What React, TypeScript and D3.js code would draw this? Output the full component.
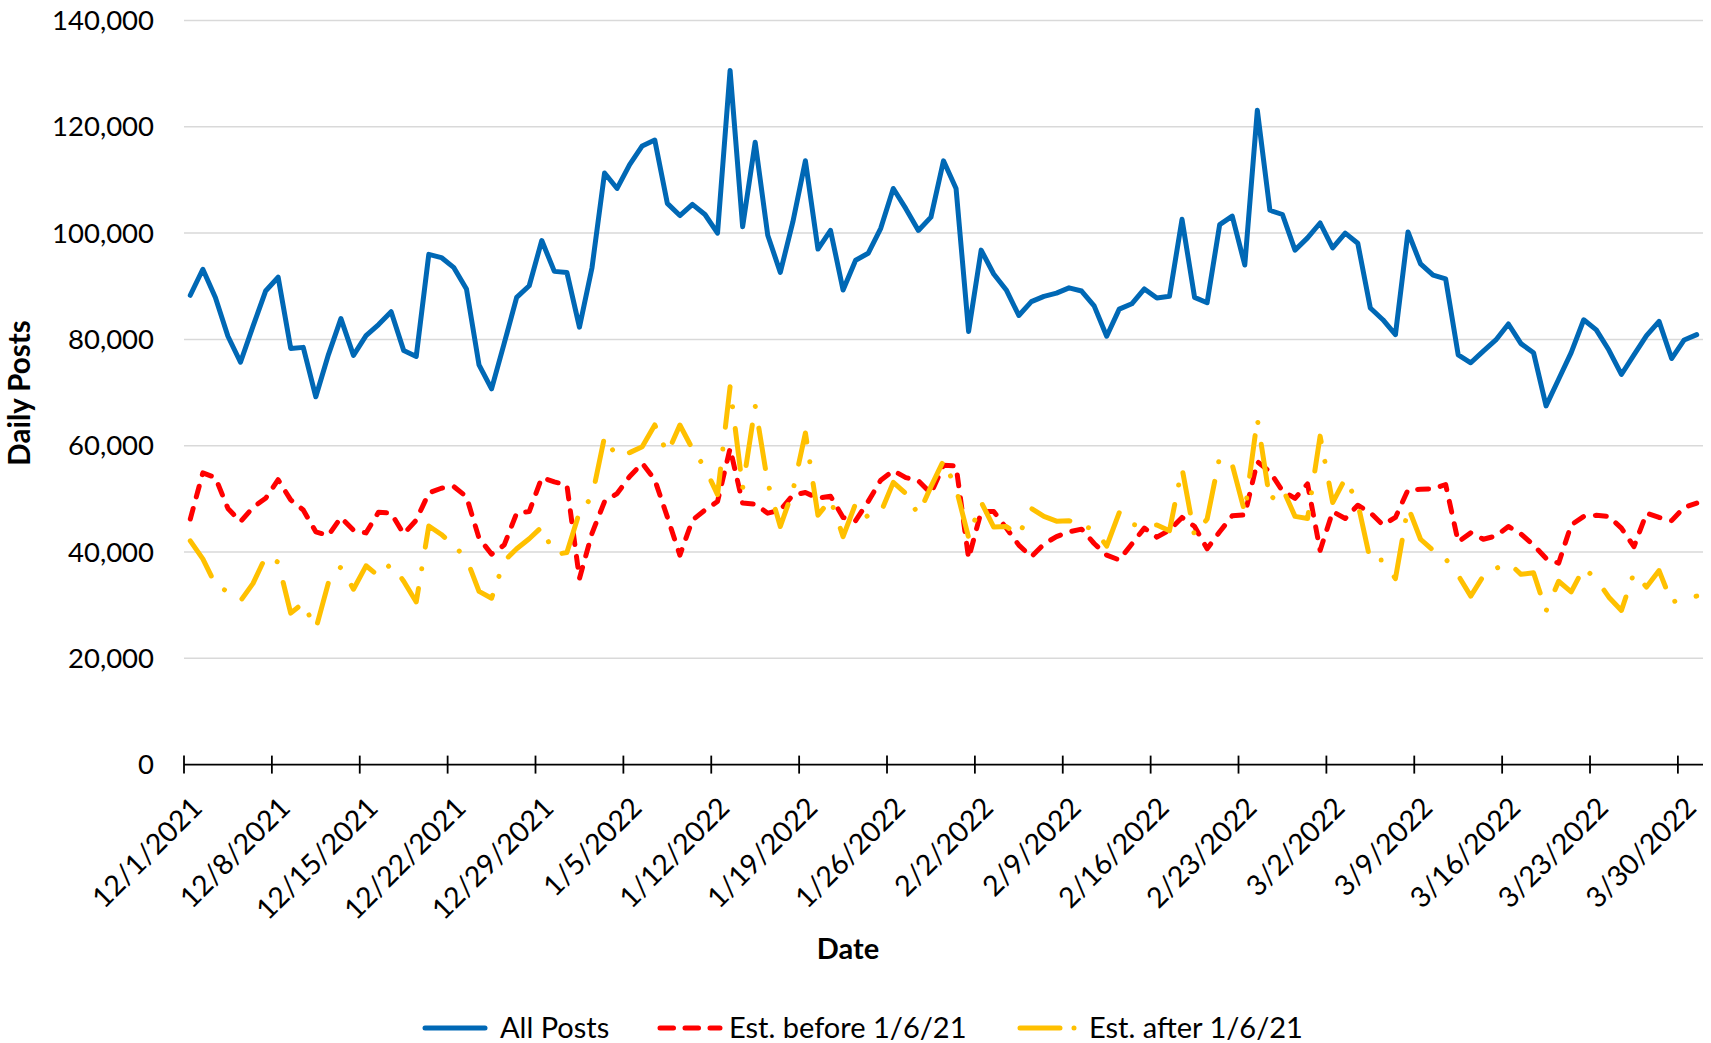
import React from 'react'
import * as d3 from 'd3'

// daily values, 12/1/2021 .. 3/31/2022
const allPosts = [
  88300, 93200, 87900, 80600, 75700, 82500, 89100, 91700, 78300, 78500,
  69200, 77100, 83900, 77000, 80700, 82800, 85200, 77900, 76800, 96000,
  95400, 93500, 89500, 75200, 70700, 79200, 87900, 90100, 98600, 92800,
  92600, 82300, 93500, 111300, 108400, 112900, 116400, 117500, 105600, 103300,
  105400, 103500, 100000, 130600, 101200, 117100, 99600, 92600, 102100, 113600,
  97000, 100500, 89300, 94900, 96200, 100900, 108400, 104600, 100500, 103000,
  113600, 108400, 81500, 96800, 92300, 89300, 84500, 87100, 88100, 88700,
  89700, 89100, 86300, 80600, 85700, 86700, 89500, 87800, 88100, 102600,
  87900, 86900, 101600, 103200, 94000, 123100, 104300, 103500, 96800, 99100,
  101900, 97200, 100000, 98100, 85900, 83700, 80900, 100200, 94200, 92100,
  91400, 77100, 75600, 77800, 79900, 82900, 79200, 77500, 67500, 72500,
  77500, 83700, 81800, 78000, 73400, 77100, 80700, 83400, 76400, 79900,
  80900
]

const estBefore = [
  46200, 54900, 54000, 48200, 45700, 48400, 50100, 53600, 49800, 47900,
  43800, 43100, 46500, 44100, 43600, 47500, 47300, 43400, 46000, 51100,
  52000, 52300, 50400, 42600, 39600, 41300, 47300, 47600, 54000, 53200,
  52600, 35000, 43500, 49500, 51000, 54200, 56700, 53600, 46600, 39400,
  46000, 47900, 49500, 59500, 49200, 49000, 47300, 47900, 50700, 51200,
  50100, 50500, 46500, 45900, 49500, 53500, 55300, 54000, 53400, 51000,
  56300, 56200, 38800, 47600, 47600, 44500, 41300, 39100, 41500, 42900,
  43800, 44300, 41600, 39400, 38500, 41500, 44500, 42800, 44100, 46500,
  44800, 40600, 43800, 46800, 47000, 57000, 55100, 51500, 50100, 52800,
  40300, 47600, 46300, 48800, 47400, 45100, 46500, 51700, 51800, 51900,
  52700, 41900, 43600, 42400, 43000, 44800, 43400, 41300, 38800, 37900,
  45100, 46700, 46900, 46700, 44500, 41000, 47300, 46500, 45900, 48400,
  49200
]

const estAfter = [
  42100, 38700, 33900, 32500, 30800, 34100, 39100, 38100, 28500, 30400,
  25500, 34200, 37200, 33000, 37400, 35500, 37800, 34500, 30600, 44900,
  43300, 41200, 38800, 32600, 31300, 38300, 40600, 42500, 44700, 39500,
  39900, 47500, 50300, 61700, 57800, 58700, 59800, 63900, 58500, 63900,
  59400, 55800, 50800, 71100, 52000, 67500, 53000, 44800, 51500, 62400,
  46900, 49900, 42900, 49100, 46500, 47400, 53100, 51000, 47000, 52300,
  57200, 52000, 42700, 49400, 44700, 44800, 43200, 48200, 46700, 45800,
  45900, 44800, 44400, 41100, 47400, 45200, 44900, 45100, 44000, 55800,
  43000, 46200, 57900, 56400, 47500, 65000, 49700, 52000, 46700, 46300,
  61800, 49300, 53800, 49200, 38400, 38500, 35000, 48500, 42400, 40300,
  38700, 35600, 31700, 35500, 36900, 38000, 35800, 36100, 28900, 34500,
  32500, 37000, 34900, 31500, 29000, 36100, 33400, 36500, 30500, 31400,
  31700
]

const tickLabels = [
  '12/1/2021', '12/8/2021', '12/15/2021', '12/22/2021', '12/29/2021',
  '1/5/2022', '1/12/2022', '1/19/2022', '1/26/2022', '2/2/2022',
  '2/9/2022', '2/16/2022', '2/23/2022', '3/2/2022', '3/9/2022',
  '3/16/2022', '3/23/2022', '3/30/2022'
]

const yTicks = [0, 20000, 40000, 60000, 80000, 100000, 120000, 140000]

const seriesNames = ['All Posts', 'Est. before 1/6/21', 'Est. after 1/6/21']

const W = 1711
const H = 1043
const FONT = 'Lato, "Open Sans", sans-serif'

const start = Date.UTC(2021, 11, 1)
const days = d3.utcDay.range(new Date(start), new Date(Date.UTC(2022, 3, 1)))

export default function App() {
  const x = d3
    .scaleUtc()
    .domain([new Date(start), new Date(Date.UTC(2022, 3, 1))])
    .range([184, 1703])
  const y = d3.scaleLinear().domain([0, 140000]).range([764.6, 20.5])

  // points sit in the middle of each day slot
  const px = (i: number) => x(d3.utcHour.offset(days[i], 12))
  const line = d3
    .line<number>()
    .x((_, i) => px(i))
    .y(d => y(d))

  const tickDates = tickLabels.map((_, i) => days[i * 7])

  const styles = [
    { color: '#0068b5', dash: undefined },
    { color: '#ff0000', dash: '11 12' },
    { color: '#ffc000', dash: '41 20 0.01 22' }
  ]
  const series = [allPosts, estBefore, estAfter]

  const legendItems = [
    { lx: 423, tx: 500 },
    { lx: 658, tx: 729 },
    { lx: 1018, tx: 1089 }
  ]

  return (
    <>
      <style>{`body{margin:0}`}</style>
      <svg width={W} height={H} style={{ display: 'block', background: '#fff' }} fontFamily={FONT}>
        {/* gridlines */}
        {yTicks.slice(1).map(t => (
          <line key={t} x1={184} x2={1703} y1={y(t)} y2={y(t)} stroke="#d9d9d9" strokeWidth={1.5} />
        ))}
        {/* y tick labels */}
        {yTicks.map(t => (
          <text key={t} x={154} y={y(t)} dy="0.35em" textAnchor="end" fontSize={27.5} fill="#000">
            {d3.format(',')(t)}
          </text>
        ))}
        {/* x axis */}
        <line x1={184} x2={1703} y1={y(0)} y2={y(0)} stroke="#000" strokeWidth={1.8} />
        {tickDates.map((d, i) => (
          <line key={i} x1={x(d)} x2={x(d)} y1={y(0) - 9} y2={y(0) + 9} stroke="#000" strokeWidth={1.8} />
        ))}
        {tickDates.map((d, i) => (
          <text
            key={i}
            transform={`translate(${x(d) + 20},${y(0) + 45}) rotate(-45)`}
            textAnchor="end"
            fontSize={28.5}
            fill="#000"
          >
            {tickLabels[i]}
          </text>
        ))}
        {/* series */}
        {series.map((s, i) => (
          <path
            key={i}
            d={line(s) || ''}
            fill="none"
            stroke={styles[i].color}
            strokeWidth={5}
            strokeDasharray={styles[i].dash}
            strokeLinecap="round"
            strokeLinejoin="round"
          />
        ))}
        {/* axis titles */}
        <text
          transform="translate(30,393) rotate(-90)"
          textAnchor="middle"
          fontWeight="bold"
          fontSize={29.5}
          fill="#000"
        >
          Daily Posts
        </text>
        <text x={848} y={959} textAnchor="middle" fontWeight="bold" fontSize={29} fill="#000">
          Date
        </text>
        {/* legend */}
        {legendItems.map((l, i) => (
          <g key={i}>
            <line
              x1={l.lx + 2}
              x2={l.lx + 62}
              y1={1028}
              y2={1028}
              stroke={styles[i].color}
              strokeWidth={5}
              strokeDasharray={i === 1 ? '13.5 11.5' : i === 2 ? '40 14 0.01 14' : undefined}
              strokeLinecap="round"
            />
            <text x={l.tx} y={1028} dy="0.35em" fontSize={29} fill="#000">
              {seriesNames[i]}
            </text>
          </g>
        ))}
      </svg>
    </>
  )
}
